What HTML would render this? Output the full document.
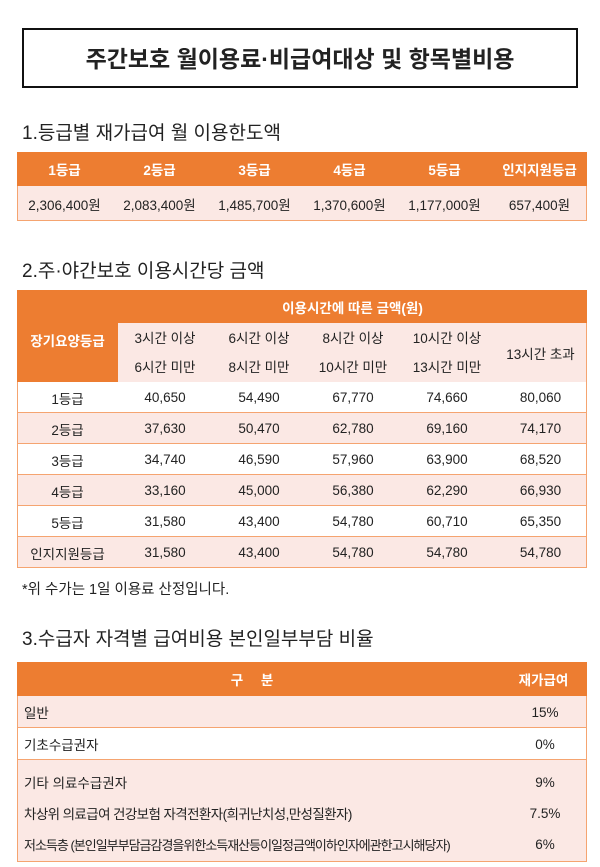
<!DOCTYPE html>
<html><head><meta charset="utf-8"><style>
body{margin:0;width:600px;height:867px;background:#fff;font-family:"Liberation Sans","Noto Sans CJK KR",sans-serif;color:#222;position:relative;overflow:hidden}
.a{position:absolute}
.title{left:22px;top:28px;width:552px;height:58px;border:2px solid #111;font-size:23px;font-weight:bold;text-align:center;line-height:58px;box-sizing:border-box;width:556px;height:60px}
.h{font-size:19px;left:22px}
.o{background:#ed7d31;color:#fff;font-weight:bold}
.p{background:#fbe8e4}
.c{position:absolute;display:flex;align-items:center;justify-content:center;font-size:13.5px;box-sizing:border-box}
.row{position:absolute;left:17px;width:570px;box-sizing:border-box;border-bottom:1.5px solid #f5a470}
</style></head><body>
<div class="a title">주간보호 월이용료·비급여대상 및 항목별비용</div>
<div class="a h" style="top:118px">1.등급별 재가급여 월 이용한도액</div>
<div class="a" style="left:17px;top:152px;width:570px;height:69px;border:1.5px solid #f5a470;box-sizing:border-box"></div>
<div class="row o" style="top:152px;height:34px;border:none"></div>
<div class="row p" style="top:186px;height:35px;border-left:1.5px solid #f5a470;border-right:1.5px solid #f5a470"></div>
<div class="c" style="left:17px;top:152px;width:95px;height:34px;color:#fff;font-weight:bold">1등급</div>
<div class="c" style="left:112px;top:152px;width:95px;height:34px;color:#fff;font-weight:bold">2등급</div>
<div class="c" style="left:207px;top:152px;width:95px;height:34px;color:#fff;font-weight:bold">3등급</div>
<div class="c" style="left:302px;top:152px;width:95px;height:34px;color:#fff;font-weight:bold">4등급</div>
<div class="c" style="left:397px;top:152px;width:95px;height:34px;color:#fff;font-weight:bold">5등급</div>
<div class="c" style="left:492px;top:152px;width:95px;height:34px;color:#fff;font-weight:bold">인지지원등급</div>
<div class="c" style="left:17px;top:186px;width:95px;height:35px">2,306,400원</div>
<div class="c" style="left:112px;top:186px;width:95px;height:35px">2,083,400원</div>
<div class="c" style="left:207px;top:186px;width:95px;height:35px">1,485,700원</div>
<div class="c" style="left:302px;top:186px;width:95px;height:35px">1,370,600원</div>
<div class="c" style="left:397px;top:186px;width:95px;height:35px">1,177,000원</div>
<div class="c" style="left:492px;top:186px;width:95px;height:35px">657,400원</div>

<div class="a h" style="top:256px">2.주·야간보호 이용시간당 금액</div>
<div class="a" style="left:17px;top:290px;width:570px;height:278px;border:1.5px solid #f5a470;box-sizing:border-box"></div>
<div class="row o" style="top:290px;height:33px;border:none"></div>
<div class="a o" style="left:17px;top:323px;width:101px;height:59px"></div>
<div class="a p" style="left:118px;top:323px;width:469px;height:59px;border-right:1.5px solid #f5a470;box-sizing:border-box"></div>
<div class="c" style="left:118px;top:290px;width:469px;height:33px;color:#fff;font-weight:bold">이용시간에 따른 금액(원)</div>
<div class="c" style="left:17px;top:320px;width:101px;height:40px;color:#fff;font-weight:bold">장기요양등급</div>
<div class="c" style="left:118px;top:323px;width:94px;height:59px;line-height:29px;text-align:center">3시간 이상<br>6시간 미만</div>
<div class="c" style="left:212px;top:323px;width:94px;height:59px;line-height:29px;text-align:center">6시간 이상<br>8시간 미만</div>
<div class="c" style="left:306px;top:323px;width:94px;height:59px;line-height:29px;text-align:center">8시간 이상<br>10시간 미만</div>
<div class="c" style="left:400px;top:323px;width:94px;height:59px;line-height:29px;text-align:center">10시간 이상<br>13시간 미만</div>
<div class="c" style="left:494px;top:323px;width:93px;height:59px">13시간 초과</div>
<div id="t2"></div>

<div class="a" style="left:22px;top:578px;font-size:14.5px">*위 수가는 1일 이용료 산정입니다.</div>

<div class="a h" style="top:624px">3.수급자 자격별 급여비용 본인일부부담 비율</div>
<div class="a" style="left:17px;top:662px;width:570px;height:200px;border:1.5px solid #f5a470;box-sizing:border-box"></div>
<div class="row o" style="top:662px;height:34px;border:none"></div>
<div class="row p" style="top:696px;height:32px;border-left:1.5px solid #f5a470;border-right:1.5px solid #f5a470"></div>
<div class="row" style="top:728px;height:32px"></div>
<div class="row p" style="top:760px;height:102px;border-left:1.5px solid #f5a470;border-right:1.5px solid #f5a470;border-bottom:1.5px solid #f5a470"></div>
<div class="c" style="left:17px;top:662px;width:470px;height:34px;color:#fff;font-weight:bold;word-spacing:14px">구 분</div>
<div class="c" style="left:500px;top:662px;width:87px;height:34px;color:#fff;font-weight:bold">재가급여</div>
<div class="c" style="left:24px;top:696px;height:32px;justify-content:flex-start">일반</div>
<div class="c" style="left:500px;top:696px;width:90px;height:32px">15%</div>
<div class="c" style="left:24px;top:728px;height:32px;justify-content:flex-start">기초수급권자</div>
<div class="c" style="left:500px;top:728px;width:90px;height:32px">0%</div>
<div class="c" style="left:24px;top:766px;height:32px;justify-content:flex-start">기타 의료수급권자</div>
<div class="c" style="left:500px;top:766px;width:90px;height:32px">9%</div>
<div class="c" style="left:24px;top:797px;height:32px;justify-content:flex-start;letter-spacing:-0.6px">차상위 의료급여 건강보험 자격전환자(희귀난치성,만성질환자)</div>
<div class="c" style="left:500px;top:797px;width:90px;height:32px">7.5%</div>
<div class="c" style="left:24px;top:828px;height:32px;justify-content:flex-start;letter-spacing:-1px;font-size:13px">저소득층 (본인일부부담금감경을위한소득재산등이일정금액이하인자에관한고시해당자)</div>
<div class="c" style="left:500px;top:828px;width:90px;height:32px">6%</div>

<div class="row" style="top:382px;height:31px"></div>
<div class="row p" style="top:413px;height:31px;border-left:1.5px solid #f5a470;border-right:1.5px solid #f5a470"></div>
<div class="row" style="top:444px;height:31px"></div>
<div class="row p" style="top:475px;height:31px;border-left:1.5px solid #f5a470;border-right:1.5px solid #f5a470"></div>
<div class="row" style="top:506px;height:31px"></div>
<div class="row p" style="top:537px;height:31px;border-left:1.5px solid #f5a470;border-right:1.5px solid #f5a470;border-bottom:1.5px solid #f5a470"></div>

<div class="c" style="left:17px;top:382px;width:101px;height:31px">1등급</div><div class="c" style="left:118px;top:382px;width:94px;height:31px">40,650</div><div class="c" style="left:212px;top:382px;width:94px;height:31px">54,490</div><div class="c" style="left:306px;top:382px;width:94px;height:31px">67,770</div><div class="c" style="left:400px;top:382px;width:94px;height:31px">74,660</div><div class="c" style="left:494px;top:382px;width:93px;height:31px">80,060</div>
<div class="c" style="left:17px;top:413px;width:101px;height:31px">2등급</div><div class="c" style="left:118px;top:413px;width:94px;height:31px">37,630</div><div class="c" style="left:212px;top:413px;width:94px;height:31px">50,470</div><div class="c" style="left:306px;top:413px;width:94px;height:31px">62,780</div><div class="c" style="left:400px;top:413px;width:94px;height:31px">69,160</div><div class="c" style="left:494px;top:413px;width:93px;height:31px">74,170</div>
<div class="c" style="left:17px;top:444px;width:101px;height:31px">3등급</div><div class="c" style="left:118px;top:444px;width:94px;height:31px">34,740</div><div class="c" style="left:212px;top:444px;width:94px;height:31px">46,590</div><div class="c" style="left:306px;top:444px;width:94px;height:31px">57,960</div><div class="c" style="left:400px;top:444px;width:94px;height:31px">63,900</div><div class="c" style="left:494px;top:444px;width:93px;height:31px">68,520</div>
<div class="c" style="left:17px;top:475px;width:101px;height:31px">4등급</div><div class="c" style="left:118px;top:475px;width:94px;height:31px">33,160</div><div class="c" style="left:212px;top:475px;width:94px;height:31px">45,000</div><div class="c" style="left:306px;top:475px;width:94px;height:31px">56,380</div><div class="c" style="left:400px;top:475px;width:94px;height:31px">62,290</div><div class="c" style="left:494px;top:475px;width:93px;height:31px">66,930</div>
<div class="c" style="left:17px;top:506px;width:101px;height:31px">5등급</div><div class="c" style="left:118px;top:506px;width:94px;height:31px">31,580</div><div class="c" style="left:212px;top:506px;width:94px;height:31px">43,400</div><div class="c" style="left:306px;top:506px;width:94px;height:31px">54,780</div><div class="c" style="left:400px;top:506px;width:94px;height:31px">60,710</div><div class="c" style="left:494px;top:506px;width:93px;height:31px">65,350</div>
<div class="c" style="left:17px;top:537px;width:101px;height:31px">인지지원등급</div><div class="c" style="left:118px;top:537px;width:94px;height:31px">31,580</div><div class="c" style="left:212px;top:537px;width:94px;height:31px">43,400</div><div class="c" style="left:306px;top:537px;width:94px;height:31px">54,780</div><div class="c" style="left:400px;top:537px;width:94px;height:31px">54,780</div><div class="c" style="left:494px;top:537px;width:93px;height:31px">54,780</div>
</body></html>
